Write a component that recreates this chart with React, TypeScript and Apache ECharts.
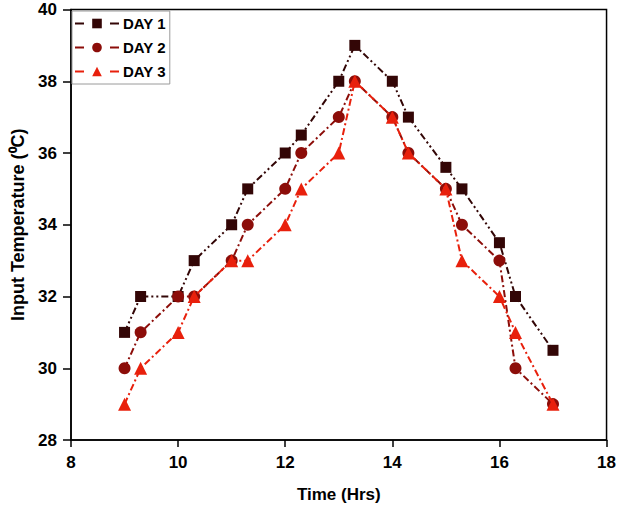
import React, { useEffect, useRef } from "react";
import * as echarts from "echarts";

// Hour of day at which readings were taken
const timeHrs = [9, 9.3, 10, 10.3, 11, 11.3, 12, 12.3, 13, 13.3, 14, 14.3, 15, 15.3, 16, 16.3, 17];

// Input temperature readings (°C) for each day
const day1 = [31, 32, 32, 33, 34, 35, 36, 36.5, 38, 39, 38, 37, 35.6, 35, 33.5, 32, 30.5];
const day2 = [30, 31, 32, 32, 33, 34, 35, 36, 37, 38, 37, 36, 35, 34, 33, 30, 29];
const day3 = [29, 30, 31, 32, 33, 33, 34, 35, 36, 38, 37, 36, 35, 33, 32, 31, 29];

const seriesNames = ["DAY 1", "DAY 2", "DAY 3"];
const seriesColors = ["#330606", "#8c0d09", "#e8200c"];
const seriesSymbols = ["rect", "circle", "triangle"];
const seriesSymbolSizes = [11, 12, 13];
const seriesDash = [
  [7, 3, 2, 3, 2, 3],
  [7, 3, 2, 3],
  [7, 3, 2, 3],
];
const seriesData = [day1, day2, day3];

const FONT = "Liberation Sans, Arial, Helvetica, sans-serif";

export default function App() {
  const ref = useRef<HTMLDivElement>(null);

  useEffect(() => {
    if (!ref.current) return;
    const chart = echarts.init(ref.current, undefined, { renderer: "svg" });

    const series = seriesData.map((vals, i) => ({
      name: seriesNames[i],
      type: "line",
      data: timeHrs.map((t, k) => [t, vals[k]]),
      symbol: seriesSymbols[i],
      symbolSize: seriesSymbolSizes[i],
      showAllSymbol: true,
      z: 3 + i,
      itemStyle: { color: seriesColors[i] },
      lineStyle: { color: seriesColors[i], width: 2, type: seriesDash[i] },
    }));

    const labelStyle = { fontFamily: FONT, fontWeight: "bold", fontSize: 17, color: "#000" };

    chart.setOption({
      animation: false,
      backgroundColor: "#ffffff",
      textStyle: { fontFamily: FONT },
      grid: {
        left: 71,
        right: 12,
        top: 9.5,
        bottom: 68,
        show: true,
        borderColor: "#000",
        borderWidth: 1.5,
        backgroundColor: "transparent",
      },
      legend: {
        show: true,
        orient: "vertical",
        left: 72,
        top: 11,
        data: seriesNames,
        itemWidth: 44,
        itemHeight: 12,
        itemGap: 9,
        padding: [5, 4, 5, 2],
        backgroundColor: "#fff",
        borderColor: "#9a9a9a",
        borderWidth: 1,
        borderRadius: 0,
        lineStyle: { type: [9, 26, 9], width: 2 },
        textStyle: { fontFamily: FONT, fontWeight: "bold", fontSize: 15, color: "#000", padding: [0, 0, 0, -1] },
      },
      xAxis: {
        type: "value",
        min: 8,
        max: 18,
        interval: 2,
        name: "Time (Hrs)",
        nameLocation: "middle",
        nameGap: 46,
        nameTextStyle: labelStyle,
        axisLine: { show: true, lineStyle: { color: "#000", width: 1.5 } },
        axisTick: { show: true, inside: false, length: 7, lineStyle: { color: "#000", width: 1.5 } },
        axisLabel: { ...labelStyle, margin: 14 },
        splitLine: { show: false },
      },
      yAxis: {
        type: "value",
        min: 28,
        max: 40,
        interval: 2,
        name: "Input Temperature (⁰C)",
        nameLocation: "middle",
        nameGap: 38,
        nameTextStyle: { ...labelStyle, fontSize: 18 },
        axisLine: { show: true, lineStyle: { color: "#000", width: 1.5 } },
        axisTick: { show: true, inside: false, length: 8, lineStyle: { color: "#000", width: 1.5 } },
        axisLabel: { ...labelStyle, margin: 14 },
        splitLine: { show: false },
      },
      series,
    });

    return () => chart.dispose();
  }, []);

  return <div ref={ref} style={{ width: 619, height: 508, position: "absolute", left: 0, top: 0 }} />;
}
